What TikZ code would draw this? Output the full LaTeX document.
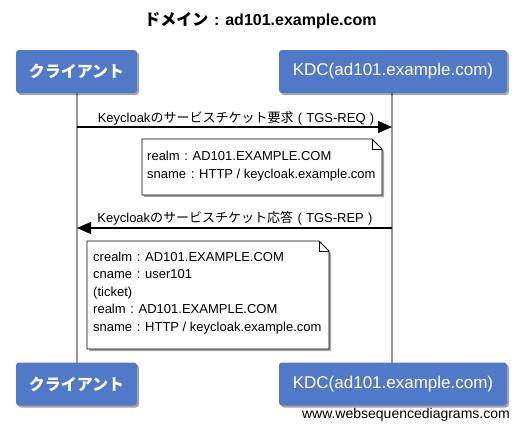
\documentclass[tikz,border=0pt]{standalone}
\usepackage{fontspec}
\setmainfont{Liberation Sans}
\newfontfamily\jp{Noto Sans CJK JP}
\newcommand{\fcolon}{\hspace{0.36em}:\hspace{0.36em}}
\newcommand{\fopen}{\hspace{0.33em}(\hspace{0.33em}}
\newcommand{\fclose}{\hspace{0.33em})\hspace{0.33em}}
\usetikzlibrary{arrows.meta,shadows}
\definecolor{partblue}{RGB}{80,122,200}
\definecolor{lifegray}{RGB}{150,150,150}
\tikzset{
  part/.style={rounded corners=3pt, fill=partblue, text=white, font=\fontsize{17}{20}\selectfont,
    inner sep=0pt, minimum height=43pt,
    drop shadow={shadow xshift=2pt,shadow yshift=-2pt,fill=black,opacity=0.35}},
  lifeline/.style={draw=lifegray, line width=1.6pt},
  msg/.style={draw=black, line width=1.2pt, -{Triangle[length=14pt,width=12pt]}},
  msglabel/.style={font=\fontsize{13}{15}\selectfont, inner sep=0pt, anchor=base},
  notebox/.style={fill=white, draw=black, line width=0.8pt,
    drop shadow={shadow xshift=2pt,shadow yshift=-2pt,fill=black,opacity=0.35}},
  notetext/.style={font=\fontsize{13}{17.5}\selectfont, align=left, inner sep=0pt, anchor=north west}
}
\begin{document}
\begin{tikzpicture}[x=1pt,y=-1pt]
\useasboundingbox (0,0) rectangle (521,429);
\node[font=\bfseries\fontsize{16}{18}\selectfont] (title) at (260.5,21) {{\jp ドメイン}\fcolon ad101.example.com};
% lifelines
\coordinate (cTop) at (77,93);
\coordinate (cBot) at (77,363);
\coordinate (kTop) at (392,93);
\coordinate (kBot) at (392,363);
\draw[lifeline] (cTop) -- (cBot);
\draw[lifeline] (kTop) -- (kBot);
% participants
\node[part, minimum width=121pt] (client) at (76.5,71.5) {\jp\bfseries\fontsize{16}{18}\selectfont クライアント};
\node[part, minimum width=228pt] (kdc) at (393,71.5) {KDC(ad101.example.com)};
\node[part, minimum width=121pt] (client2) at (76.5,384) {\jp\bfseries\fontsize{16}{18}\selectfont クライアント};
\node[part, minimum width=228pt] (kdc2) at (393,384) {KDC(ad101.example.com)};
% message 1
\coordinate (c1) at (77,127);
\coordinate (k1) at (392,127);
\draw[msg] (c1) -- (k1);
\node[msglabel] (m1) at (236,122) {Keycloak{\jp のサービスチケット要求}\fopen TGS-REQ\fclose};
% note 1
\path[notebox] (142,139) -- (372,139) -- (382,149) -- (382,195) -- (142,195) -- cycle;
\draw[line width=0.8pt] (372,139) -- (372,149) -- (382,149);
\node[notetext] (t1) at (147,151) {realm\fcolon AD101.EXAMPLE.COM\\sname\fcolon HTTP / keycloak.example.com};
% message 2
\coordinate (k2) at (392,228);
\coordinate (c2) at (77,228);
\draw[msg] (k2) -- (c2);
\node[msglabel] (m2) at (235,222) {Keycloak{\jp のサービスチケット応答}\fopen TGS-REP\fclose};
% note 2
\path[notebox] (87,241) -- (319,241) -- (329,251) -- (329,349) -- (87,349) -- cycle;
\draw[line width=0.8pt] (319,241) -- (319,251) -- (329,251);
\node[notetext] (t2) at (93,251.5) {crealm\fcolon AD101.EXAMPLE.COM\\cname\fcolon user101\\(ticket)\\realm\fcolon AD101.EXAMPLE.COM\\sname\fcolon HTTP / keycloak.example.com};
% watermark
\node[font=\fontsize{14}{16}\selectfont, anchor=base east, inner sep=0pt] (wm) at (510,418) {www.websequencediagrams.com};
\end{tikzpicture}
\end{document}
